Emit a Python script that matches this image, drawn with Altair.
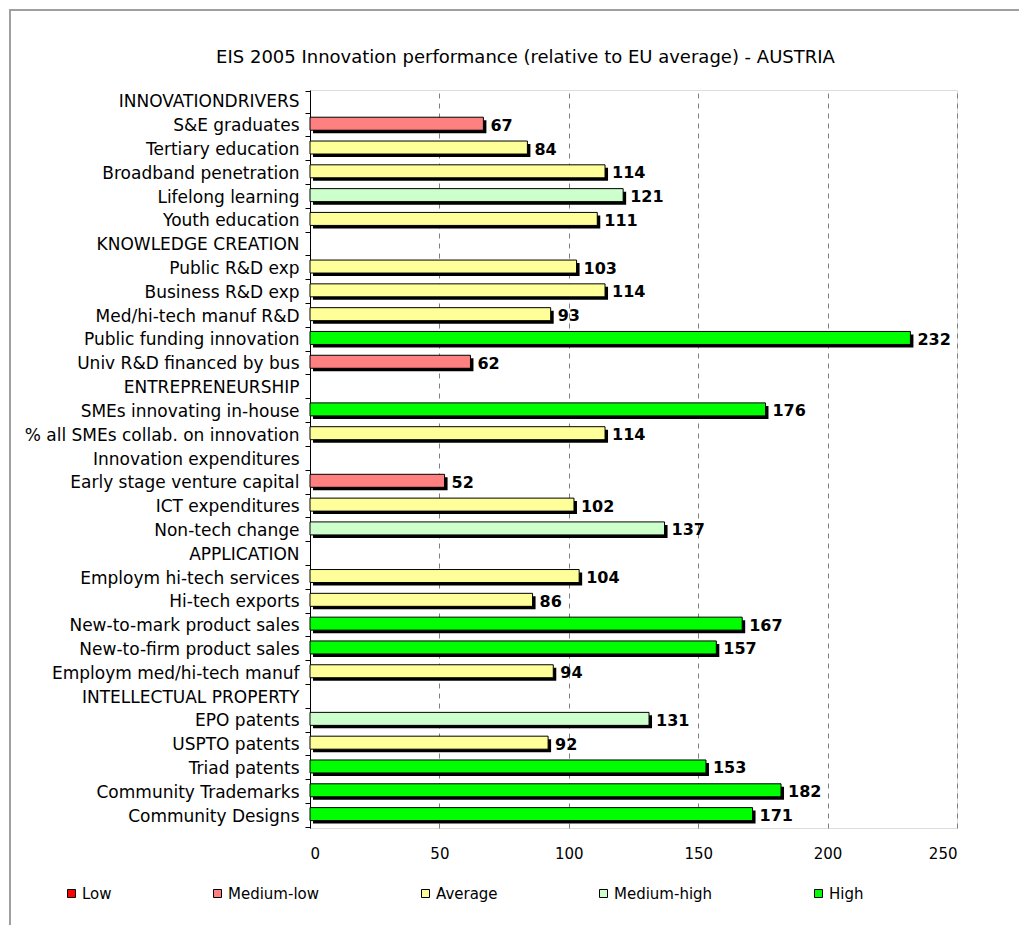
import altair as alt
import pandas as pd

categories = [
    "INNOVATIONDRIVERS", "S&E graduates", "Tertiary education", "Broadband penetration",
    "Lifelong learning", "Youth education", "KNOWLEDGE CREATION", "Public R&D exp",
    "Business R&D exp", "Med/hi-tech manuf R&D", "Public funding innovation",
    "Univ R&D financed by bus", "ENTREPRENEURSHIP", "SMEs innovating in-house",
    "% all SMEs collab. on innovation", "Innovation expenditures", "Early stage venture capital",
    "ICT expenditures", "Non-tech change", "APPLICATION", "Employm hi-tech services",
    "Hi-tech exports", "New-to-mark product sales", "New-to-firm product sales",
    "Employm med/hi-tech manuf", "INTELLECTUAL PROPERTY", "EPO patents", "USPTO patents",
    "Triad patents", "Community Trademarks", "Community Designs",
]
values = [
    None, 67, 84, 114, 121, 111, None, 103, 114, 93, 232, 62, None, 176, 114, None,
    52, 102, 137, None, 104, 86, 167, 157, 94, None, 131, 92, 153, 182, 171,
]
levels = [
    None, "Medium-low", "Average", "Average", "Medium-high", "Average", None, "Average",
    "Average", "Average", "High", "Medium-low", None, "High", "Average", None,
    "Medium-low", "Average", "Medium-high", None, "Average", "Average", "High", "High",
    "Average", None, "Medium-high", "Average", "High", "High", "High",
]
level_names = ["Low", "Medium-low", "Average", "Medium-high", "High"]
level_colors = ["#FF0000", "#FF8080", "#FFFF99", "#CCFFCC", "#00FF00"]
x_ticks = [0, 50, 100, 150, 200, 250]

df = pd.DataFrame({"indicator": categories, "value": values, "level": levels})

FONT = "DejaVu Sans"

y_enc = alt.Y(
    "indicator:N", sort=categories, title=None,
    scale=alt.Scale(domain=categories),
    axis=alt.Axis(
        labelFont=FONT, labelFontSize=17, labelColor="black", labelPadding=6,
        domainColor="black", tickColor="black", tickSize=5, tickBand="extent",
        grid=False, labelLimit=400,
    ),
)
x_enc = alt.X(
    "value:Q", title=None,
    scale=alt.Scale(domain=[0, 250], nice=False, zero=True),
    axis=alt.Axis(
        values=x_ticks, labelFont=FONT, labelFontSize=15, labelColor="black",
        domain=False, ticks=False, labelPadding=18,
        grid=True, gridColor="#808080", gridDash=[5, 5], gridWidth=1,
    ),
)

base = alt.Chart(df).transform_filter("datum.value != null")

shadow = base.mark_bar(color="black", height=13, xOffset=3, yOffset=1).encode(
    x=x_enc, y=y_enc
)
bars = base.mark_bar(stroke="black", strokeWidth=1, height=13, yOffset=-2).encode(
    x=x_enc, y=y_enc,
    color=alt.Color(
        "level:N",
        scale=alt.Scale(domain=level_names, range=level_colors),
        legend=alt.Legend(
            title=None, orient="none", legendX=-246, legendY=796,
            direction="horizontal", symbolType="square", symbolSize=64,
            symbolStrokeColor="black", symbolStrokeWidth=1,
            labelFont=FONT, labelFontSize=15, labelColor="black",
            columnPadding=98, labelOffset=3, gridAlign="none",
        ),
    ),
)
labels = base.mark_text(
    align="left", baseline="middle", dx=7, dy=0, font=FONT, fontSize=16,
    fontWeight="bold", color="black",
).encode(x=x_enc, y=y_enc, text=alt.Text("value:Q"))

frame_top = alt.Chart(df).mark_rule(color="#A0A0A0", strokeWidth=2).encode(
    x=alt.value(-301), x2=alt.value(720), y=alt.value(-80)
)
frame_left = alt.Chart(df).mark_rule(color="#A0A0A0", strokeWidth=2).encode(
    x=alt.value(-300), y=alt.value(-81), y2=alt.value(835)
)

chart = alt.layer(frame_top, frame_left, shadow, bars, labels).properties(
    width=647, height=738,
    padding={"left": 302, "top": 82, "right": 62, "bottom": 97},
    autosize=alt.AutoSizeParams(type="none"),
    title=alt.TitleParams(
        "EIS 2005 Innovation performance (relative to EU average) - AUSTRIA",
        font=FONT, fontSize=18, fontWeight="normal", color="black",
        anchor="middle", dx=-108, offset=2, dy=61,
    ),
).configure_view(stroke=None).configure(background="white")

chart.save("out.html", embed_options={"renderer": "svg", "actions": False})
